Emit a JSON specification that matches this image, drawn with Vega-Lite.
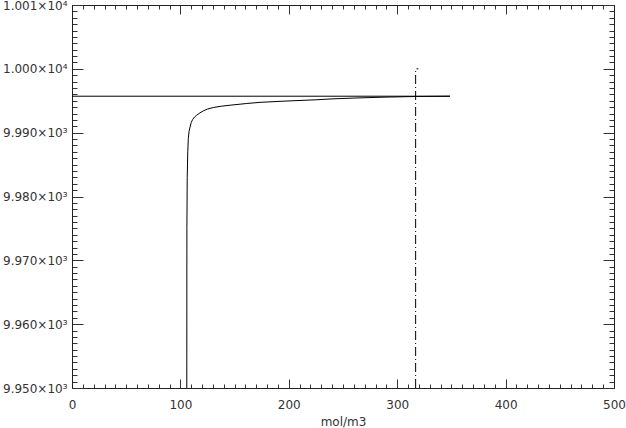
{
  "$schema": "https://vega.github.io/schema/vega-lite/v6.json",
  "width": 542,
  "height": 383,
  "autosize": {"type": "none"},
  "padding": {"left": 72, "top": 5, "right": 12, "bottom": 40},
  "background": "white",
  "config": {
    "view": {"stroke": "black", "strokeWidth": 1},
    "axis": {
      "grid": false,
      "domainColor": "#222",
      "tickColor": "#333",
      "labelFont": "DejaVu Sans",
      "labelFontSize": 12,
      "labelColor": "#333",
      "labelFontWeight": "normal",
      "titleFont": "DejaVu Sans",
      "titleFontSize": 12,
      "titleFontWeight": "normal",
      "titleColor": "#333",
      "labelOverlap": false,
      "labelFlush": false
    }
  },
  "datasets": {
    "lines": [
      {"s": "flat", "i": 0, "x": 0, "y": 9995.71},
      {"s": "flat", "i": 1, "x": 348.7, "y": 9995.71},
      {"s": "curve", "i": 0, "x": 105.9, "y": 9950},
      {"s": "curve", "i": 1, "x": 106.0, "y": 9975},
      {"s": "curve", "i": 2, "x": 106.3, "y": 9983},
      {"s": "curve", "i": 3, "x": 106.8, "y": 9987},
      {"s": "curve", "i": 4, "x": 107.3, "y": 9989.1},
      {"s": "curve", "i": 5, "x": 108.0, "y": 9990.2},
      {"s": "curve", "i": 6, "x": 108.9, "y": 9990.9},
      {"s": "curve", "i": 7, "x": 110.0, "y": 9991.6},
      {"s": "curve", "i": 8, "x": 111.3, "y": 9992.06},
      {"s": "curve", "i": 9, "x": 113.0, "y": 9992.45},
      {"s": "curve", "i": 10, "x": 115.0, "y": 9992.73},
      {"s": "curve", "i": 11, "x": 118.0, "y": 9993.1},
      {"s": "curve", "i": 12, "x": 121.1, "y": 9993.41},
      {"s": "curve", "i": 13, "x": 125.0, "y": 9993.7},
      {"s": "curve", "i": 14, "x": 130.4, "y": 9993.94},
      {"s": "curve", "i": 15, "x": 138.0, "y": 9994.15},
      {"s": "curve", "i": 16, "x": 145.8, "y": 9994.3},
      {"s": "curve", "i": 17, "x": 161.2, "y": 9994.57},
      {"s": "curve", "i": 18, "x": 173.4, "y": 9994.75},
      {"s": "curve", "i": 19, "x": 194.6, "y": 9994.93},
      {"s": "curve", "i": 20, "x": 225.0, "y": 9995.15},
      {"s": "curve", "i": 21, "x": 240.8, "y": 9995.3},
      {"s": "curve", "i": 22, "x": 260.0, "y": 9995.42},
      {"s": "curve", "i": 23, "x": 286.9, "y": 9995.56},
      {"s": "curve", "i": 24, "x": 318.0, "y": 9995.67},
      {"s": "curve", "i": 25, "x": 348.7, "y": 9995.71},
      {"s": "dash", "i": 0, "x": 317, "y": 9950},
      {"s": "dash", "i": 1, "x": 317, "y": 10000},
      {"s": "dash", "i": 2, "x": 319.5, "y": 10000}
    ]
  },
  "layer": [
    {
      "data": {"name": "lines"},
      "transform": [{"filter": "datum.s !== 'dash'"}],
      "mark": {"type": "line", "color": "black", "strokeWidth": 1, "clip": true},
      "encoding": {
        "x": {
          "field": "x", "type": "quantitative",
          "scale": {"domain": [0, 500], "nice": false, "zero": false},
          "axis": {
            "orient": "bottom",
            "title": "mol/m3",
            "titlePadding": 1,
            "values": [0,10,20,30,40,50,60,70,80,90,100,110,120,130,140,150,160,170,180,190,200,210,220,230,240,250,260,270,280,290,300,310,320,330,340,350,360,370,380,390,400,410,420,430,440,450,460,470,480,490,500],
            "tickSize": {"condition": {"test": "datum.value % 100 === 0", "value": -9}, "value": -4},
            "labelExpr": "datum.value % 100 === 0 ? '' + datum.value : ''",
            "labelPadding": 20
          }
        },
        "y": {
          "field": "y", "type": "quantitative",
          "scale": {"domain": [9950, 10010], "nice": false, "zero": false},
          "axis": {
            "orient": "left",
            "title": null,
            "values": [9950,9951,9952,9953,9954,9955,9956,9957,9958,9959,9960,9961,9962,9963,9964,9965,9966,9967,9968,9969,9970,9971,9972,9973,9974,9975,9976,9977,9978,9979,9980,9981,9982,9983,9984,9985,9986,9987,9988,9989,9990,9991,9992,9993,9994,9995,9996,9997,9998,9999,10000,10001,10002,10003,10004,10005,10006,10007,10008,10009,10010],
            "tickSize": {"condition": {"test": "datum.value % 10 === 0", "value": -11}, "value": -5},
            "labelExpr": "datum.value % 10 !== 0 ? '' : (datum.value >= 10000 ? format(datum.value / 10000, '.3f') + '×10⁴' : format(datum.value / 1000, '.3f') + '×10³')",
            "labelPadding": 16
          }
        },
        "detail": {"field": "s"},
        "order": {"field": "i"}
      }
    },
    {
      "data": {"name": "lines"},
      "transform": [{"filter": "datum.s === 'dash'"}],
      "mark": {"type": "line", "color": "black", "strokeWidth": 1, "strokeDash": [9, 3, 1, 3], "clip": true},
      "encoding": {
        "x": {
          "field": "x", "type": "quantitative",
          "axis": {
            "orient": "top",
            "title": null,
            "labels": false,
            "values": [0,10,20,30,40,50,60,70,80,90,100,110,120,130,140,150,160,170,180,190,200,210,220,230,240,250,260,270,280,290,300,310,320,330,340,350,360,370,380,390,400,410,420,430,440,450,460,470,480,490,500],
            "tickSize": {"condition": {"test": "datum.value % 100 === 0", "value": -9}, "value": -4}
          }
        },
        "y": {
          "field": "y", "type": "quantitative",
          "axis": {
            "orient": "right",
            "title": null,
            "labels": false,
            "values": [9950,9951,9952,9953,9954,9955,9956,9957,9958,9959,9960,9961,9962,9963,9964,9965,9966,9967,9968,9969,9970,9971,9972,9973,9974,9975,9976,9977,9978,9979,9980,9981,9982,9983,9984,9985,9986,9987,9988,9989,9990,9991,9992,9993,9994,9995,9996,9997,9998,9999,10000,10001,10002,10003,10004,10005,10006,10007,10008,10009,10010],
            "tickSize": {"condition": {"test": "datum.value % 10 === 0", "value": -11}, "value": -5}
          }
        },
        "order": {"field": "i"}
      }
    }
  ],
  "resolve": {"axis": {"x": "independent", "y": "independent"}}
}
